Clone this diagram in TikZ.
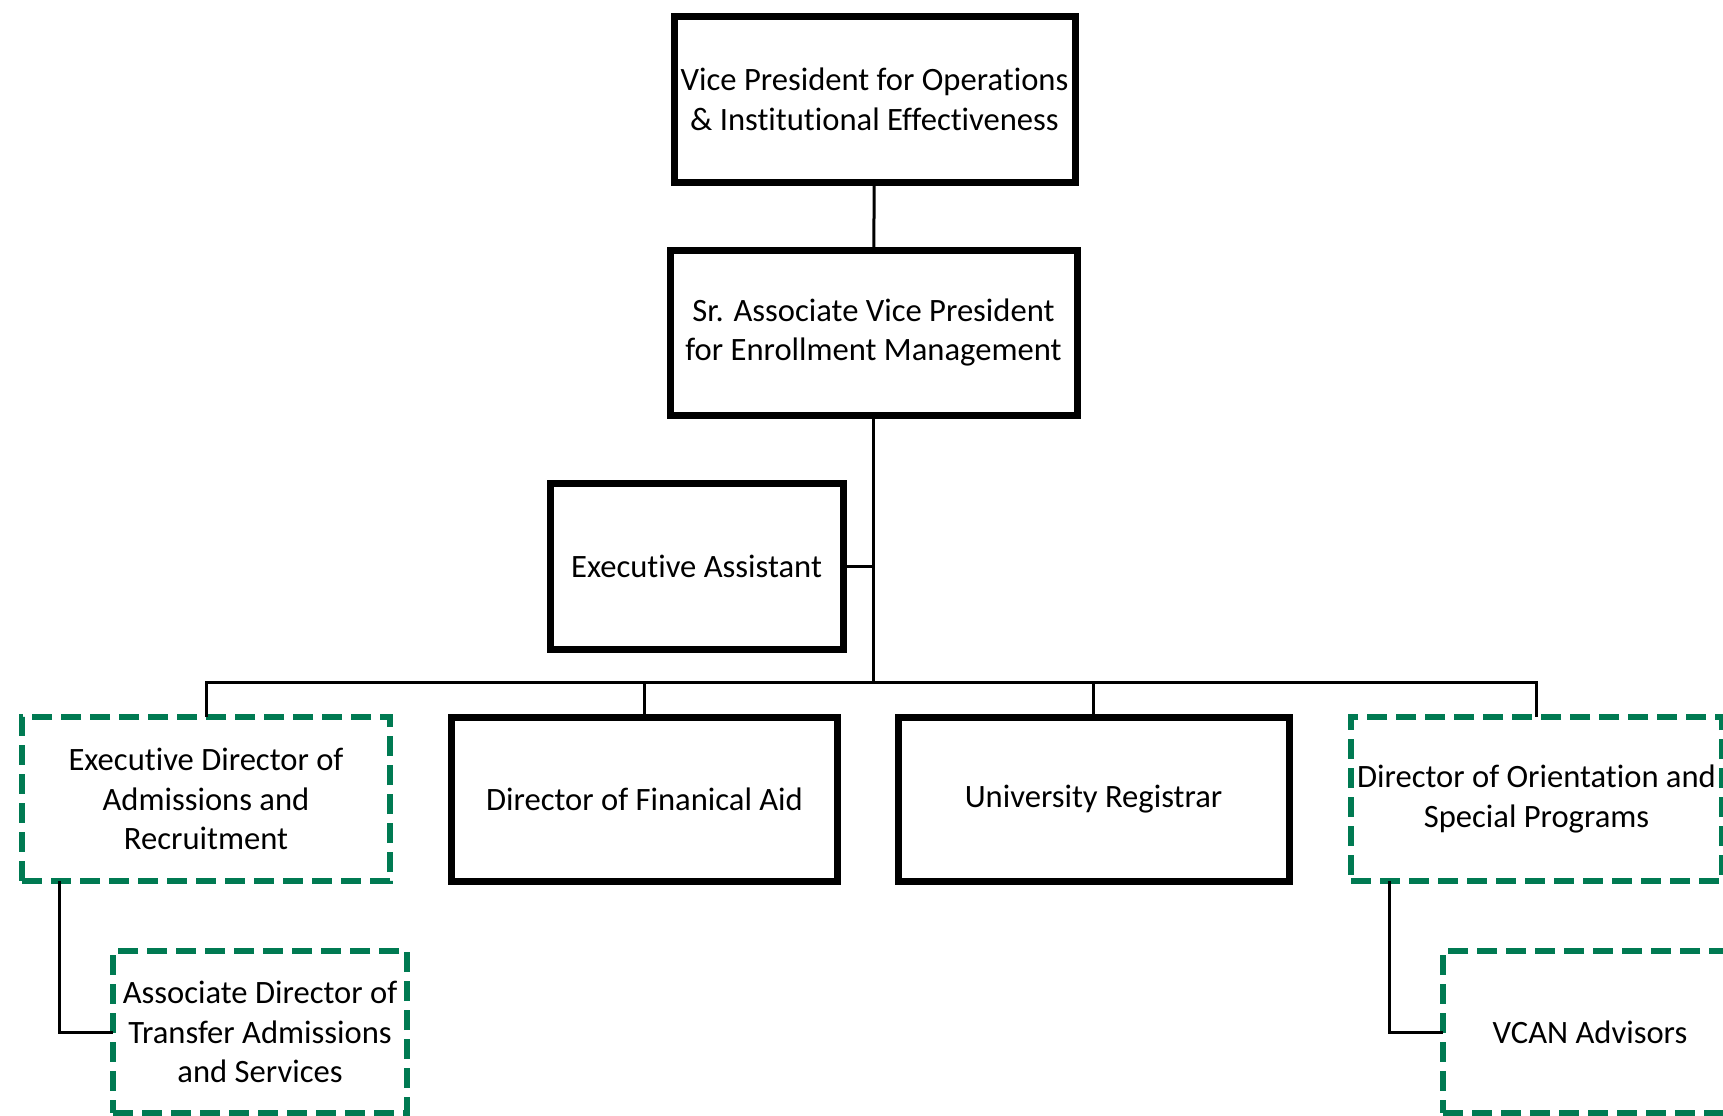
\documentclass[tikz,border=0pt]{standalone}
\usepackage{fontspec}
\setmainfont{Carlito}[Ligatures=NoCommon]
\usepackage{xcolor}
\definecolor{dgreen}{RGB}{0,122,82}

\begin{document}
\begin{tikzpicture}[x=0.5pt,y=-0.5pt,
  every node/.style={rectangle,align=center,outer sep=0pt,inner sep=0pt,font=\fontsize{16.3}{19.8}\selectfont},
  box/.style={draw,line width=3.5pt},
  dbox/.style={draw=dgreen,line width=3.2pt,dash pattern=on 10pt off 4.5pt},
  line width=1.5pt]
  \useasboundingbox (0,0) rectangle (1723,1115);
  \clip (0,0) rectangle (1723,1115);
  \node [box,minimum width=200.5pt,minimum height=83pt](vp) at (874.5,99) {Vice President for Operations\\\& Institutional Effectiveness};
  \node [box,minimum width=203.5pt,minimum height=82.5pt](savp) at (873.5,332.5) {Sr. Associate Vice President\\for Enrollment Management};
  \node [box,minimum width=146.5pt,minimum height=83pt](ea) at (696.5,566) {Executive Assistant};
  \node [dbox,minimum width=184pt,minimum height=82pt](edar) at (206,799) {Executive Director of\\Admissions and\\Recruitment};
  \node [box,minimum width=193pt,minimum height=82pt](dfa) at (644.5,799) {Director of Finanical Aid};
  \node [box,minimum width=195.5pt,minimum height=82pt](reg) at (1093.5,799) {University Registrar};
  \node [dbox,minimum width=185.5pt,minimum height=82pt](dosp) at (1536.5,799) {Director of Orientation and\\Special Programs};
  \node [dbox,minimum width=147pt,minimum height=81pt](adtas) at (260,1032) {Associate Director of\\Transfer Admissions\\and Services};
  \node [dbox,minimum width=147pt,minimum height=81pt](vcan) at (1590,1032) {VCAN Advisors};
  \coordinate (bus) at (873.5,682);
  \coordinate (edarleg) at (59,881);
  \coordinate (dospleg) at (1389,881);
  \draw (vp) -- (savp);
  \draw (savp) -- (bus);
  \draw (ea.east) -- (ea.east -| bus);
  \draw (edar.north) |- (bus) -| (dosp.north);
  \draw (dfa.north) -- (dfa.north |- bus);
  \draw (reg.north) -- (reg.north |- bus);
  \draw (edarleg) |- (adtas.west);
  \draw (dospleg) |- (vcan.west);
\end{tikzpicture}
\end{document}
